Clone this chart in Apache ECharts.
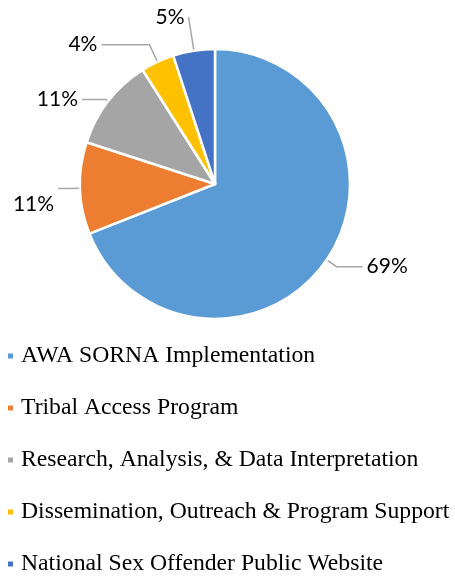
<!DOCTYPE html>
<html>
<head>
<meta charset="utf-8">
<script src="https://cdn.jsdelivr.net/npm/echarts@6/dist/echarts.min.js"></script>
<style>
  html, body { margin: 0; padding: 0; background: #fff; }
  #chart { width: 455px; height: 578px; }
</style>
</head>
<body>
<div id="chart"></div>
<script>
const categories = [
  'AWA SORNA Implementation',
  'Tribal Access Program',
  'Research, Analysis, & Data Interpretation',
  'Dissemination, Outreach & Program Support',
  'National Sex Offender Public Website'
];
const shares = [69, 11, 11, 4, 5];
const sliceColors = ['#5B9BD5', '#ED7D31', '#A5A5A5', '#FFC000', '#4472C4'];
// label leader line lengths per slice [length, length2] and vertical nudge
const leaderLengths = [[12, 26], [12, 10], [3, 24], [19, 48], [34, 0]];
const labelNudgeY = [0, 16, 0, 0, 0];

const chart = echarts.init(document.getElementById('chart'));
chart.setOption({
  animation: false,
  color: sliceColors,
  legend: {
    orient: 'vertical',
    left: 6,
    top: 344,
    height: 240,
    padding: 0,
    icon: 'rect',
    itemWidth: 7,
    itemHeight: 7,
    itemGap: 28,
    selectedMode: false,
    textStyle: {
      fontFamily: 'Liberation Serif',
      fontSize: 23.7,
      lineHeight: 24,
      color: '#000',
      padding: [0, 0, 0, 2],
      overflow: 'none'
    },
    data: categories
  },
  series: [
    {
      type: 'pie',
      center: [215, 184],
      radius: 135,
      startAngle: 90,
      clockwise: true,
      avoidLabelOverlap: false,
      itemStyle: { borderColor: '#fff', borderWidth: 2.5 },
      label: {
        show: true,
        position: 'outside',
        formatter: '{c}%',
        fontFamily: 'Lato',
        fontSize: 21,
        color: '#000',
        distanceToLabelLine: 4,
        overflow: 'none'
      },
      labelLine: {
        show: true,
        lineStyle: { color: '#A6A6A6', width: 1.5 }
      },
      labelLayout: function (params) {
        return { dy: labelNudgeY[params.dataIndex] };
      },
      emphasis: { disabled: true },
      data: categories.map((name, i) => ({
        name: name,
        value: shares[i],
        labelLine: { length: leaderLengths[i][0], length2: leaderLengths[i][1] }
      }))
    }
  ]
});
</script>
</body>
</html>
